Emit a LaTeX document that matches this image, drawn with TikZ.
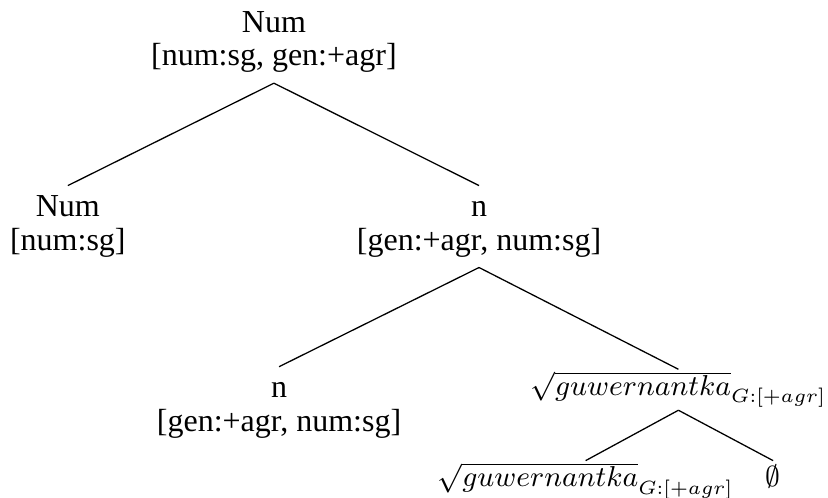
\documentclass[tikz,border=0pt]{standalone}
\usepackage{fontspec}
\setmainfont{Liberation Serif}
\usetikzlibrary{positioning}

\begin{document}
\begin{tikzpicture}[
  tnode/.style={align=center, inner sep=2pt, font=\fontsize{10}{10.6}\selectfont},
  leaf/.style={inner sep=2pt, text height=6pt, text depth=2.4pt, font=\fontsize{9}{11}\selectfont}]
  \useasboundingbox (0,0) rectangle (258.75pt,-155.625pt);

  \node[tnode] (num0) at (85.6pt,-13.2pt) {\strut Num\\\strut[num:sg, gen:+agr]};
  \node[tnode, below=32pt of num0, xshift=-64.4pt] (num1) {\strut Num\\\strut[num:sg]};
  \node[tnode, below=32pt of num0, xshift=64.1pt] (n1) {\strut n\\\strut[gen:+agr, num:sg]};
  \node[tnode, below=31pt of n1, xshift=-62.5pt] (n2) {\strut n\\\strut[gen:+agr, num:sg]};
  \node[leaf, below=31.8pt of n1, xshift=62.3pt] (root1) {$\sqrt{guwernantka}_{G:[+agr]}$};
  \node[leaf, below=15.75pt of root1, xshift=-29pt] (root2) {$\sqrt{guwernantka}_{G:[+agr]}$};
  \node[leaf, below=15.75pt of root1, xshift=29.6pt] (null) {$\emptyset$};

  % branches
  \draw (num0.south) -- (num1.north);
  \draw (num0.south) -- (n1.north);
  \draw (n1.south) -- (n2.north);
  \draw (n1.south) -- (root1.north);
  \draw (root1.south) -- (root2.north);
  \draw (root1.south) -- (null.north);
\end{tikzpicture}
\end{document}
